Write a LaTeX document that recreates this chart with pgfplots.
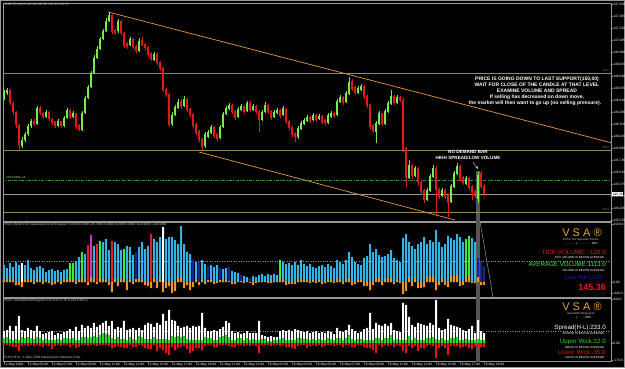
\documentclass[border=0pt]{standalone}
\usepackage{pgfplots}
\pgfplotsset{compat=1.18}
\usepackage{pgfplotstable}
\usepackage{fontspec}
\setmainfont{Liberation Sans}
\newcommand\fs[1]{\fontsize{#1}{#1}\selectfont}
\definecolor{cup}{RGB}{120,235,70}
\definecolor{cdn}{RGB}{225,25,25}
\definecolor{framegray}{RGB}{150,150,150}
\definecolor{olivel}{RGB}{140,140,90}
\definecolor{dgreen}{RGB}{60,150,60}
\definecolor{bidgray}{RGB}{150,150,150}
\definecolor{trend}{RGB}{235,150,70}
\definecolor{bandgray}{RGB}{85,85,85}
\definecolor{vblue}{RGB}{50,180,230}
\definecolor{vnavy}{RGB}{25,35,150}
\definecolor{vgreen}{RGB}{60,235,60}
\definecolor{vred}{RGB}{230,30,40}
\definecolor{vmag}{RGB}{200,60,200}
\definecolor{vorange}{RGB}{240,150,40}
\definecolor{gold}{RGB}{230,165,60}
\definecolor{sgreen}{RGB}{40,220,40}
\definecolor{sred}{RGB}{230,20,20}
\definecolor{txtgray}{RGB}{200,200,200}
\definecolor{lblue}{RGB}{30,30,170}

\pgfplotstableread{
i o h l c v k w s u d
0 146.44 146.53 146.42 146.51 680 0 120 120 50 -20
1 146.50 146.56 146.48 146.53 560 0 80 130 60 -20
2 146.53 146.54 146.36 146.39 760 0 120 170 40 -30
3 146.39 146.40 146.25 146.29 600 0 80 120 30 -40
4 146.29 146.30 146.11 146.14 800 0 -120 170 40 -40
5 146.14 146.15 145.86 145.91 680 0 -120 270 30 -80
6 145.90 146.00 145.88 145.97 760 5 -200 130 60 -30
7 145.97 146.06 145.95 146.04 680 0 80 120 50 -20
8 146.04 146.15 146.02 146.13 880 0 120 150 60 -30
9 146.13 146.21 146.11 146.18 560 0 80 130 50 -20
10 146.18 146.21 146.13 146.15 480 0 -80 120 40 -30
11 146.15 146.35 146.14 146.33 600 0 120 170 60 -20
12 146.33 146.35 146.25 146.27 640 0 80 120 50 -30
13 146.27 146.28 146.21 146.23 560 0 -80 90 30 -40
14 146.23 146.31 146.22 146.29 400 0 80 100 40 -20
15 146.29 146.30 146.18 146.21 480 0 -40 110 30 -30
16 146.21 146.22 146.14 146.16 520 0 -120 120 30 -60
17 146.18 146.19 146.11 146.13 440 0 -80 80 30 -30
18 146.13 146.21 146.12 146.18 480 0 80 100 40 -20
19 146.18 146.19 146.11 146.13 400 0 -80 90 30 -30
20 146.13 146.24 146.12 146.22 480 0 80 110 50 -20
21 146.22 146.33 146.21 146.31 520 0 120 120 50 -20
22 146.31 146.32 146.21 146.23 760 2 80 140 40 -40
23 146.23 146.30 146.22 146.27 760 2 120 120 50 -20
24 146.27 146.28 146.09 146.12 840 0 -80 160 30 -50
25 146.14 146.15 146.07 146.08 1000 0 80 120 30 -40
26 146.08 146.30 146.07 146.27 1200 2 160 180 60 -20
27 146.27 146.47 146.26 146.44 1120 0 120 150 60 -20
28 146.44 146.59 146.43 146.57 1480 3 -120 170 50 -30
29 146.57 146.75 146.56 146.72 1880 4 200 150 60 -20
30 146.72 146.93 146.71 146.89 1440 0 120 200 70 -20
31 146.89 147.03 146.88 146.99 1520 3 -80 160 60 -30
32 146.99 147.13 146.98 147.11 1640 2 160 180 80 -20
33 147.11 147.22 147.10 147.20 1600 0 120 200 100 -20
34 147.20 147.34 147.19 147.31 1720 0 80 220 90 -20
35 147.31 147.41 147.30 147.38 1280 0 -120 170 80 -30
36 147.38 147.40 147.16 147.19 1640 3 -400 220 50 -50
37 147.21 147.22 147.15 147.17 1600 0 120 140 40 -40
38 147.20 147.33 147.17 147.31 1520 0 -160 160 60 -30
39 147.31 147.32 147.15 147.17 1280 0 120 150 40 -40
40 147.17 147.18 147.01 147.03 1320 2 80 220 40 -50
41 147.06 147.07 146.99 147.02 1440 0 -320 130 30 -50
42 147.04 147.13 147.03 147.11 1400 0 80 140 60 -20
43 147.11 147.12 146.99 147.02 1080 0 -80 150 40 -40
44 147.03 147.04 146.95 146.97 1200 1 120 130 30 -40
45 146.97 147.12 146.96 147.08 1400 0 160 150 70 -20
46 147.10 147.13 147.03 147.04 1600 0 80 130 60 -30
47 147.05 147.06 146.98 147.01 1320 0 -120 180 40 -50
48 147.02 147.03 146.90 146.93 1440 0 -160 200 40 -60
49 146.95 146.96 146.86 146.88 1920 3 -240 190 40 -60
50 146.87 146.96 146.86 146.94 1720 0 160 160 60 -20
51 146.94 146.95 146.81 146.84 1600 0 -240 200 40 -80
52 146.85 146.86 146.75 146.77 1800 0 120 180 40 -50
53 146.78 146.79 146.51 146.53 2200 5 -400 290 40 -70
54 146.54 146.55 146.45 146.48 1720 0 -240 220 40 -100
55 146.49 146.50 146.12 146.14 1800 0 -160 330 30 -120
56 146.15 146.29 146.13 146.25 1800 0 -440 230 70 -40
57 146.25 146.36 146.24 146.34 1680 0 -360 220 60 -70
58 146.33 146.43 146.32 146.40 1520 0 160 170 70 -50
59 146.41 146.43 146.32 146.34 2240 0 200 150 60 -40
60 146.35 146.47 146.34 146.43 1520 0 -240 160 70 -30
61 146.43 146.44 146.29 146.31 1200 0 -120 170 40 -60
62 146.32 146.33 146.23 146.25 1120 0 -320 150 30 -100
63 146.26 146.27 146.11 146.13 880 1 -200 170 30 -80
64 146.15 146.16 146.03 146.05 800 0 80 160 30 -50
65 146.07 146.08 145.95 145.97 800 1 -120 170 30 -50
66 145.98 145.99 145.86 145.89 880 0 80 300 30 -70
67 145.90 146.06 145.88 146.04 720 0 -80 150 60 -30
68 146.00 146.08 145.99 146.06 640 1 80 120 50 -20
69 146.05 146.14 146.04 146.12 680 0 80 120 50 -20
70 146.12 146.13 145.99 146.02 600 0 -80 130 30 -40
71 146.04 146.05 145.96 145.98 680 0 -40 120 30 -40
72 145.99 146.14 145.98 146.12 560 1 80 140 60 -20
73 146.12 146.29 146.11 146.26 520 0 80 160 70 -20
74 146.26 146.35 146.25 146.33 560 0 80 220 80 -20
75 146.32 146.39 146.31 146.36 600 1 40 200 60 -30
76 146.36 146.37 146.26 146.29 440 0 -80 120 30 -40
77 146.30 146.31 146.20 146.22 400 0 -80 100 30 -40
78 146.23 146.34 146.22 146.32 360 0 40 110 50 -20
79 146.31 146.38 146.30 146.35 280 1 40 90 50 -20
80 146.35 146.36 146.26 146.29 240 0 -40 100 30 -30
81 146.30 146.41 146.29 146.39 200 0 40 120 50 -20
82 146.39 146.41 146.29 146.31 160 1 -40 100 30 -30
83 146.31 146.38 146.30 146.35 240 0 -120 100 40 -20
84 146.35 146.36 146.26 146.29 200 0 -40 100 30 -30
85 146.30 146.31 146.06 146.20 280 0 40 220 30 -100
86 146.20 146.31 146.18 146.29 320 0 40 80 40 -20
87 146.29 146.40 146.27 146.36 240 0 40 70 40 -20
88 146.36 146.37 146.26 146.29 320 0 -40 60 20 -20
89 146.30 146.31 146.20 146.22 280 0 -40 70 20 -30
90 146.23 146.31 146.22 146.29 320 0 40 60 30 -20
91 146.27 146.33 146.26 146.31 280 0 40 60 30 -20
92 146.31 146.32 146.22 146.24 880 2 120 120 40 -30
93 146.25 146.35 146.24 146.33 800 0 80 130 50 -20
94 146.32 146.33 146.15 146.17 720 0 -120 120 30 -40
95 146.18 146.19 146.08 146.11 760 0 -80 130 30 -40
96 146.12 146.13 146.00 146.03 680 0 -80 120 30 -50
97 146.05 146.06 145.95 146.00 800 0 -80 140 30 -60
98 146.00 146.13 145.98 146.11 680 0 120 130 50 -30
99 146.09 146.18 146.08 146.16 880 0 80 120 50 -20
100 146.15 146.22 146.14 146.20 720 0 80 110 40 -20
101 146.18 146.25 146.17 146.23 640 0 80 120 40 -50
102 146.23 146.24 146.16 146.18 720 0 -40 100 30 -30
103 146.20 146.27 146.18 146.25 600 0 80 110 40 -20
104 146.25 146.26 146.17 146.20 560 0 -40 120 30 -30
105 146.21 146.26 146.20 146.24 640 0 80 100 40 -20
106 146.24 146.25 146.15 146.17 680 0 -80 110 30 -40
107 146.20 146.21 146.14 146.16 600 0 -40 100 30 -30
108 146.16 146.27 146.15 146.25 720 0 80 120 50 -20
109 146.23 146.30 146.22 146.27 640 0 80 110 40 -20
110 146.27 146.28 146.22 146.24 560 0 -40 90 30 -30
111 146.25 146.43 146.24 146.41 880 0 120 150 50 -20
112 146.40 146.48 146.39 146.45 800 0 80 120 50 -20
113 146.45 146.46 146.36 146.39 720 0 -80 110 30 -40
114 146.40 146.52 146.39 146.50 880 0 120 130 50 -20
115 146.49 146.68 146.48 146.62 1200 0 160 180 80 -20
116 146.63 146.66 146.52 146.54 1000 0 -120 140 40 -40
117 146.57 146.58 146.48 146.50 800 0 -80 120 30 -40
118 146.50 146.58 146.49 146.56 720 0 80 100 40 -20
119 146.53 146.60 146.52 146.58 680 0 80 110 40 -20
120 146.58 146.59 146.43 146.45 960 0 -160 140 30 -40
121 146.47 146.48 146.33 146.35 1040 0 -160 150 30 -50
122 146.36 146.37 146.09 146.12 1520 0 -320 300 30 -50
123 146.14 146.15 146.05 146.07 1200 0 -120 140 30 -70
124 146.06 146.18 145.94 146.16 1320 0 160 200 50 -100
125 146.15 146.30 146.14 146.27 1080 0 160 180 50 -20
126 146.27 146.28 146.13 146.15 1000 0 -120 170 30 -40
127 146.15 146.32 146.14 146.30 1040 0 120 190 50 -20
128 146.29 146.41 146.27 146.39 1120 0 160 170 50 -30
129 146.38 146.53 146.36 146.47 1280 0 160 200 80 -20
130 146.47 146.48 146.36 146.39 960 0 -80 130 30 -40
131 146.39 146.48 146.38 146.45 880 0 80 120 40 -20
132 146.45 146.46 146.40 146.42 800 0 -40 110 30 -30
133 146.42 146.44 145.84 145.86 1760 0 -480 400 30 -80
134 145.88 145.89 145.44 145.54 1920 0 -360 380 30 -100
135 145.54 145.75 145.53 145.69 1600 0 200 260 70 -30
136 145.69 145.70 145.53 145.57 1440 0 -160 180 30 -50
137 145.57 145.68 145.55 145.66 1320 0 160 160 50 -30
138 145.66 145.67 145.45 145.49 1520 0 -240 200 30 -80
139 145.50 145.51 145.35 145.39 1600 0 -240 190 30 -50
140 145.41 145.42 145.26 145.30 1800 0 -200 180 30 -50
141 145.30 145.43 145.28 145.41 1520 0 200 170 50 -30
142 145.40 145.59 145.39 145.57 1680 0 240 200 50 -20
143 145.55 145.69 145.54 145.66 1600 0 240 180 60 -30
144 145.66 145.68 145.13 145.41 2080 0 -320 430 40 -150
145 145.42 145.43 145.31 145.33 1600 0 -120 150 30 -50
146 145.34 145.43 145.33 145.41 1400 0 160 130 50 -30
147 145.41 145.42 145.31 145.33 1520 0 -120 140 30 -50
148 145.35 145.36 145.10 145.26 1840 0 -200 240 30 -120
149 145.27 145.48 145.26 145.45 1760 0 240 180 50 -30
150 145.44 145.62 145.43 145.60 1680 0 280 170 50 -30
151 145.59 145.71 145.58 145.68 1920 0 280 160 60 -30
152 145.68 145.69 145.51 145.53 1800 0 -160 150 30 -50
153 145.55 145.56 145.46 145.49 1600 0 -120 130 30 -40
154 145.48 145.57 145.46 145.54 1720 2 200 120 40 -30
155 145.54 145.55 145.41 145.43 1840 2 240 140 30 -50
156 145.45 145.46 145.30 145.37 1760 0 -40 170 30 -60
157 145.40 145.41 145.32 145.34 1600 0 -40 100 30 -30
158 145.31 145.61 145.26 145.58 960 1 200 230 40 -50
159 145.60 145.62 145.42 145.44 800 1 -120 120 30 -40
160 145.45 145.48 145.34 145.36 640 1 -126 100 30 -40
}\mt

\pgfplotsset{mt/.style={scale only axis, anchor=south west, xmin=-0.333, xmax=202.333,
  axis line style={draw=framegray,line width=0.6pt},
  tick style={draw=framegray,line width=0.4pt}, tick align=outside, major tick length=1.5pt,
  ytick pos=right, yticklabel pos=right,
  tick label style={text=white,font=\fs{3.3},inner sep=0.6pt}}}

\begin{document}
\begin{tikzpicture}[x=1pt,y=1pt]
\fill[black] (0,0) rectangle (625,368);
\draw[framegray,line width=0.5pt] (0.5,0.5) rectangle (624.5,367.5);

% ---------------- price panel
\begin{axis}[mt, at={(3pt,147pt)}, width=608pt, height=218pt,
  ymin=145.059, ymax=147.511, xtick=\empty,
  ytick={147.500,147.365,147.230,147.095,146.960,146.825,146.690,146.555,146.420,146.285,146.150,146.015,145.880,145.745,145.610,145.475,145.340,145.205,145.070},
  yticklabels={147.500,147.365,147.230,147.095,146.960,146.825,146.690,146.555,146.420,146.285,146.150,146.015,145.880,145.745,145.610,145.475,145.340,145.205,145.070}]
\addplot[fill=bandgray,draw=none] coordinates {(157.4,145.0) (158.6,145.0) (158.6,145.62) (157.4,145.62)} --cycle;
\addplot[olivel,line width=0.6pt] coordinates {(-1,146.724) (203,146.724)};
\addplot[olivel,line width=0.6pt] coordinates {(-1,145.8575) (203,145.8575)};
\addplot[olivel,line width=0.6pt] coordinates {(-1,145.16) (203,145.16)};
\addplot[dgreen,line width=0.5pt,dash pattern=on 3pt off 1.5pt on 0.7pt off 1.5pt] coordinates {(-1,145.52) (203,145.52)};
\addplot[bidgray,line width=0.5pt] coordinates {(-1,145.3625) (203,145.3625)};
\addplot[trend,line width=0.7pt] coordinates {(34.7,147.41) (202.3,145.94)};
\addplot[trend,line width=0.7pt] coordinates {(65,145.835) (150.3,145.07)};
% wicks
\addplot[draw=none,mark=none,restrict expr to domain={\thisrow{c}-\thisrow{o}}{0:10},
  error bars/.cd, y dir=both, y explicit, error mark=none, error bar style={draw=cup,line width=0.7pt}]
  table[x=i, y expr={(\thisrow{h}+\thisrow{l})/2}, y error expr={(\thisrow{h}-\thisrow{l})/2}] {\mt};
\addplot[draw=none,mark=none,restrict expr to domain={\thisrow{c}-\thisrow{o}}{-10:0},
  error bars/.cd, y dir=both, y explicit, error mark=none, error bar style={draw=cdn,line width=0.7pt}]
  table[x=i, y expr={(\thisrow{h}+\thisrow{l})/2}, y error expr={(\thisrow{h}-\thisrow{l})/2}] {\mt};
% bodies
\addplot[draw=none,mark=none,restrict expr to domain={\thisrow{c}-\thisrow{o}}{0:10},
  error bars/.cd, y dir=both, y explicit, error mark=none, error bar style={draw=cup,line width=2pt}]
  table[x=i, y expr={(\thisrow{o}+\thisrow{c})/2}, y error expr={abs(\thisrow{c}-\thisrow{o})/2}] {\mt};
\addplot[draw=none,mark=none,restrict expr to domain={\thisrow{c}-\thisrow{o}}{-10:0},
  error bars/.cd, y dir=both, y explicit, error mark=none, error bar style={draw=cdn,line width=2pt}]
  table[x=i, y expr={(\thisrow{o}+\thisrow{c})/2}, y error expr={abs(\thisrow{c}-\thisrow{o})/2}] {\mt};
\end{axis}

% ---------------- volume panel
\begin{axis}[mt, at={(3pt,71pt)}, width=608pt, height=75pt,
  ymin=-600, ymax=2400, xtick=\empty,
  ytick={2320,0,-440}, yticklabels={2320.0,0.00,-440.0}]
\addplot[fill=bandgray,draw=none] coordinates {(157.4,-700) (158.6,-700) (158.6,2500) (157.4,2500)} --cycle;
\addplot[framegray,line width=0.4pt,dotted] coordinates {(-1,840) (203,840)};
\addplot[ybar,bar width=2pt,draw=none,fill=vblue,restrict expr to domain={\thisrow{k}}{-0.5:0.5}] table[x=i,y=v]{\mt};
\addplot[ybar,bar width=2pt,draw=none,fill=vnavy,restrict expr to domain={\thisrow{k}}{0.5:1.5}] table[x=i,y=v]{\mt};
\addplot[ybar,bar width=2pt,draw=none,fill=vgreen,restrict expr to domain={\thisrow{k}}{1.5:2.5}] table[x=i,y=v]{\mt};
\addplot[ybar,bar width=2pt,draw=none,fill=vred,restrict expr to domain={\thisrow{k}}{2.5:3.5}] table[x=i,y=v]{\mt};
\addplot[ybar,bar width=2pt,draw=none,fill=vmag,restrict expr to domain={\thisrow{k}}{3.5:4.5}] table[x=i,y=v]{\mt};
\addplot[ybar,bar width=2pt,draw=none,fill=white,restrict expr to domain={\thisrow{k}}{4.5:5.5}] table[x=i,y=v]{\mt};
\addplot[ybar,bar width=2pt,draw=none,fill=vorange] table[x=i,y=w]{\mt};
\addplot[framegray,line width=0.5pt] coordinates {(158.7,2400) (163,-600)};
\end{axis}

% ---------------- spread panel
\begin{axis}[mt, at={(3pt,7pt)}, width=608pt, height=63pt,
  ymin=-180, ymax=450,
  xtick={0,8,...,160}, xtick pos=left,
  xticklabels={12 May 2009,12 May 05:00,12 May 07:00,12 May 09:00,12 May 11:00,12 May 13:00,12 May 15:00,12 May 17:00,12 May 19:00,12 May 21:00,12 May 23:00,13 May 01:00,13 May 03:00,13 May 05:00,13 May 07:00,13 May 09:00,13 May 11:00,13 May 13:00,13 May 15:00,13 May 17:00,13 May 19:00},
  xticklabel style={anchor=north west,xshift=-0.8pt},
  ytick={440,0,-170}, yticklabels={440.0,0.00,-170.0}]
\addplot[fill=bandgray,draw=none] coordinates {(157.4,-200) (158.6,-200) (158.6,500) (157.4,500)} --cycle;
\addplot[framegray,line width=0.4pt,dotted] coordinates {(-1,120) (203,120)};
\addplot[ybar,bar width=2pt,draw=none,fill=white] table[x=i,y=s]{\mt};
\addplot[ybar,bar width=2pt,draw=none,fill=sgreen] table[x=i,y=u]{\mt};
\addplot[ybar,bar width=2pt,draw=none,fill=sred] table[x=i,y=d]{\mt};
\end{axis}

% ---------------- texts
\node[anchor=west,text=txtgray,font=\fs{3.3},inner sep=0] at (5,363) {GBPJPY,M15 145.56 145.58 145.35 145.37};
\node[anchor=west,text=txtgray,font=\fs{3},inner sep=0] at (6,190) {\#STC0309\_s4};
\node[anchor=east,text=olivel,font=\fs{3},inner sep=0] at (609,297.5) {21.6};
\node[anchor=east,text=olivel,font=\fs{3},inner sep=0] at (609,220.5) {54.2};
\node[anchor=east,text=olivel,font=\fs{3},inner sep=0] at (609,158.5) {54.4};
\node[anchor=west,fill=white,text=black,font=\fs{3.3},inner sep=0.6pt] at (612,174) {145.36};

\begin{scope}[every node/.style={text=white,font=\fs{5}\bfseries,inner sep=0}]
\node at (537,289) {PRICE IS GOING DOWN TO LAST SUPPORT(150,00)};
\node at (537,283) {WAIT FOR CLOSE OF THE CANDLE AT THAT LEVEL};
\node at (537,277) {EXAMINE VOLUME AND SPREAD};
\node at (537,271) {If selling has decreased on down move,};
\node at (535,265) {the market will then want to go up (no selling pressure).};
\end{scope}
\begin{scope}[every node/.style={text=white,font=\fs{4.6}\bfseries,inner sep=0}]
\node at (468,216) {NO DEMAND BAR};
\node at (468,210) {HIGH SPREAD/LOW VOLUME};
\end{scope}
\draw[txtgray,line width=0.4pt,->,>=stealth] (473,206) -- (478,199);

% volume panel texts
\node[anchor=west,text=txtgray,font=\fs{3.2},inner sep=0] at (4,143) {VSA\textcopyright\ BetterVSA SeparateVolumeHistogram 0.0000 0.0000 226.0000 0.0000 0.0000 0.0000 1113.0000 -126.0000};
\node[text=gold,font=\fs{11},inner sep=0] at (582,135) {V S A \textregistered};
\node[text=txtgray,font=\fs{2.8},inner sep=0] at (581,128.5) {BVSA Tick Separate Volume};
\node[text=white,font=\fs{3},inner sep=0] at (581,124.5) {.\,.\,.\,.\,:\,.\,.\,.\,.\,|\,.\,.\,.\,.\,:\,.\,.\,.\,.\,:\enspace 28\%};
\node[anchor=east,text=vred,font=\fs{6.3},inner sep=0] at (606,116) {TICK VOLUME: -126.0};
\node[anchor=east,text=white,font=\fs{2.9},inner sep=0] at (605,110) {TICK VOLUME IS BELOW AVERAGE.};
\node[anchor=east,text=vgreen,font=\fs{6.2},inner sep=0] at (606,104) {AVERAGE VOLUME:1113.0};
\node[anchor=east,text=white,font=\fs{2.9},inner sep=0] at (605,97.5) {VOLUME IS BELOW AVERAGE.};
\node[anchor=east,text=lblue,font=\fs{6},inner sep=0] at (603,91) {Last Bar:LOW};
\node[anchor=east,text=vred,font=\fs{9}\bfseries,inner sep=0] at (606,81) {145.36};

% spread panel texts
\node[anchor=west,text=txtgray,font=\fs{3.2},inner sep=0] at (4,67) {VSA\textcopyright\ SpreadWickHistogram 233.0 22.0 -35.0 233.0 205.4};
\node[text=gold,font=\fs{11},inner sep=0] at (582,61) {V S A \textregistered};
\node[text=txtgray,font=\fs{2.8},inner sep=0] at (581,54.5) {SpreadWickHistogram};
\node[text=white,font=\fs{3},inner sep=0] at (581,50) {.\,.\,.\,.\,|\,.\,.\,.\,.\,:\enspace 28\%};
\node[anchor=east,text=white,font=\fs{6.2},inner sep=0] at (606,40) {Spread(H-L):233.0};
\node[anchor=east,text=white,font=\fs{2.9},inner sep=0] at (605,34.5) {SPREAD IS BELOW AVERAGE.};
\node[anchor=east,text=sgreen,font=\fs{6.2},inner sep=0] at (606,26) {Upper Wick:22.0};
\node[anchor=east,text=white,font=\fs{2.9},inner sep=0] at (605,20.5) {UWICK IS BELOW AVERAGE.};
\node[anchor=east,text=sred,font=\fs{6.2},inner sep=0] at (606,16) {Lower Wick:-35.0};
\node[anchor=east,text=white,font=\fs{2.9},inner sep=0] at (605,10.5) {LWICK IS BELOW AVERAGE.};
\node[anchor=west,text=txtgray,font=\fs{3.2},inner sep=0] at (4,10) {FxPro MT4, \textcopyright\ 2001-2009 MetaQuotes Software Corp.};

\pgfresetboundingbox
\useasboundingbox (0,0) rectangle (625,368);
\end{tikzpicture}
\end{document}
